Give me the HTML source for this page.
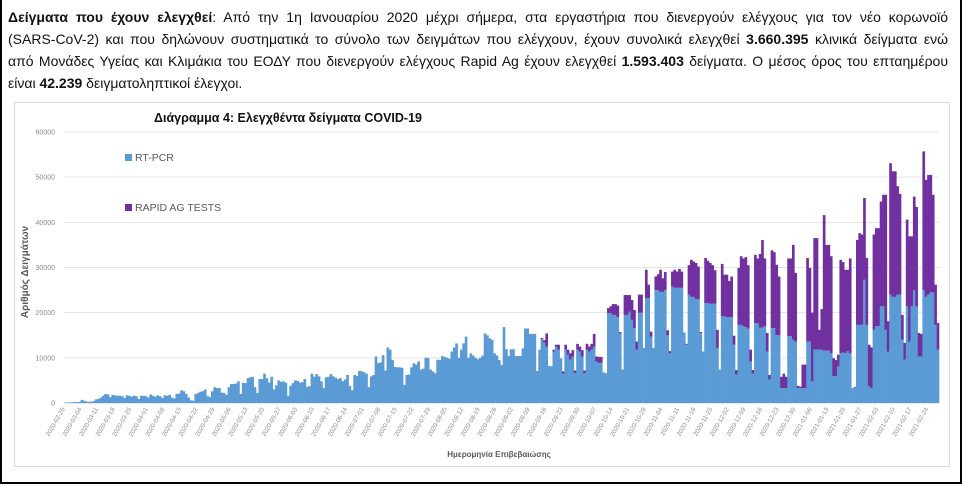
<!DOCTYPE html>
<html><head><meta charset="utf-8">
<style>
html,body{margin:0;padding:0;background:#fff;}
#page{position:relative;width:958px;height:482px;border:2px solid #000;border-top:none;overflow:hidden;font-family:"Liberation Sans",sans-serif;}
.ln{position:absolute;left:6px;width:940px;font-size:14px;color:#111;white-space:nowrap;text-align:justify;text-align-last:justify;}
.ln b{font-weight:bold;}
#chartbox{position:absolute;left:12px;top:102px;width:934px;height:363px;border:1px solid #d9d9d9;}
svg{position:absolute;left:0;top:0;}
</style></head><body>
<div id="page">
<div class="ln" style="top:9px"><b>Δείγματα που έχουν ελεγχθεί</b>: Από την 1η Ιανουαρίου 2020 μέχρι σήμερα, στα εργαστήρια που διενεργούν ελέγχους για τον νέο κορωνοϊό</div>
<div class="ln" style="top:31px">(SARS-CoV-2) και που δηλώνουν συστηματικά το σύνολο των δειγμάτων που ελέγχουν, έχουν συνολικά ελεγχθεί <b>3.660.395</b> κλινικά δείγματα ενώ</div>
<div class="ln" style="top:53px">από Μονάδες Υγείας και Κλιμάκια του ΕΟΔΥ που διενεργούν ελέγχους Rapid Ag έχουν ελεγχθεί <b>1.593.403</b> δείγματα. Ο μέσος όρος του επταημέρου</div>
<div class="ln" style="top:75px;text-align-last:left;width:auto">είναι <b>42.239</b> δειγματοληπτικοί έλεγχοι.</div>
<div id="chartbox"></div>
<svg id="chart" width="962" height="486"></svg>
</div>
<script>
// RT-PCR daily values per month (2020-02-26 .. 2021-02-28)
const rtFeb20=[100,100,150,150];
const rtMar20=[200,200,250,700,500,300,300,300,400,800,900,1200,1600,2000,1900,1300,1800,1700,1600,1600,1500,1100,1700,1600,1400,1600,1500,900,1600,1600,1500];
const rtApr20=[1200,1900,1600,1400,1700,1500,1100,1700,1600,1800,1200,1000,2000,2100,2800,2600,2000,1200,600,500,2000,2200,2500,2600,3000,1500,1300,2600,3500,3300];
const rtMay20=[3300,2300,2200,1800,3500,4200,4200,4300,4800,2000,4500,4400,5500,5700,5800,3500,2200,5300,5300,6500,5500,4500,5800,3000,3900,5000,4700,4800,4500,1600,3800];
const rtJun20=[4400,5000,4900,4500,4600,5300,3600,3700,6500,5800,6400,5900,4800,3300,5700,5800,6400,5900,5600,5300,5500,4800,5200,6200,3800,2800,6200,6000,7100,7000];
const rtJul20=[6800,6500,3500,5900,6200,10300,8800,9000,10600,7200,12300,11800,9500,8000,7900,7900,7800,4000,6200,6300,7900,8800,8500,9200,7400,7600,10000,10000,7400,7000,6600];
const rtAug20=[9600,9500,10400,10200,10000,9800,11400,12300,13200,10000,11800,13200,14700,10000,11000,10500,10000,9700,10000,10500,15400,15000,14300,14000,11000,10500,9500,8400,16800,11900,10400];
const rtSep20=[11900,11900,10400,10400,10400,12100,16500,16500,15300,15300,15300,7100,11800,14100,13400,12500,8200,8100,11400,12500,11800,9900,6500,11800,10700,9600,10300,6600,11800,11400];
const rtOct20=[10300,6600,11800,11400,11800,12500,9200,8900,8900,6800,6600,19900,19900,19500,19500,19000,15400,7400,19500,19500,20200,18400,16600,11800,20000,20000,12200,23200,23200,14700,12200];
const rtNov20=[25000,25000,24600,24600,25000,15000,11000,25800,25500,25500,25500,25500,15600,12900,24000,23500,23500,23000,23000,15500,11400,22100,22100,22000,22000,22000,12200,7400,19200,19200];
const rtDec20=[19000,19000,19000,12900,6300,17300,17300,17000,16800,16500,9200,6500,17700,17700,16700,16700,17000,11400,5200,16600,16600,15000,15000,3300,3300,3300,14800,14800,14000,13600,3300];
const rtJan21=[3300,3300,3300,13600,13600,4800,11800,11800,11800,11800,11600,11600,11600,11000,5900,6000,8100,11000,11200,11000,11500,11000,3300,3300,17300,17300,17300,27300,17300,3700,3300];
const rtFeb21=[16200,17000,17000,21400,21400,16200,11400,24000,23500,23500,24000,24000,14000,9600,21400,13600,21400,25000,21400,10300,10300,25000,23500,24000,24500,24500,17300,11800];
// Rapid Ag daily values (reported from 2020-09-01)
const raSep20=[0,0,0,0,0,0,0,0,0,0,0,0,0,300,500,2900,0,0,400,400,1100,0,500,1100,1100,1400,1400,600,1300,1100];
const raOct20=[1400,600,1300,1100,1300,2800,1100,1300,1300,0,0,1100,1500,2400,2400,2600,300,0,4400,4400,3700,4400,4000,1800,4000,4000,0,6300,3000,1100,0];
const raNov20=[3000,3500,4900,3000,4000,1100,500,3300,4000,3600,4200,3600,0,200,6500,8200,7800,8000,7200,200,0,10000,9400,9000,8500,7400,4000,0,11600,9200];
const raDec20=[9400,8000,9000,2000,1000,12600,15200,15000,15500,14000,2600,800,15100,14300,16300,19400,15000,4100,1000,17200,16800,15600,13000,2500,3200,2500,17200,17200,21000,15200,500];
const raJan21=[300,5200,5200,18500,16300,15200,24700,24700,4400,9000,30000,23400,23400,21500,4000,3500,2600,20700,20000,18500,18000,21000,0,200,18800,20300,20000,18100,14800,9200,9000];
const raFeb21=[21100,21700,21700,23200,24700,29900,6700,29100,27800,27800,24000,22300,5500,3700,19200,23300,15500,20700,22000,5200,5000,30700,25900,26500,26000,21600,8900,5900];
const startDate="2020-02-26";
const rapidStartDate="2020-09-01";
const yTicks=[0,10000,20000,30000,40000,50000,60000];
const seriesNames=["RT-PCR","RAPID AG TESTS"];

const rtpcr=[].concat(rtFeb20,rtMar20,rtApr20,rtMay20,rtJun20,rtJul20,rtAug20,rtSep20,rtOct20,rtNov20,rtDec20,rtJan21,rtFeb21);
const rapid=[].concat(raSep20,raOct20,raNov20,raDec20,raJan21,raFeb21);
const DAY=86400000;
const t0=Date.parse(startDate+"T00:00:00Z");
const rapidOffset=Math.round((Date.parse(rapidStartDate+"T00:00:00Z")-t0)/DAY);

const NS="http://www.w3.org/2000/svg";
const svg=document.getElementById('chart');
const L=62,R=937,T=132,B=403,YMAX=60000;
const n=rtpcr.length;
const bw=(R-L)/n;
function x(i){return L+i*bw;}
function y(v){return B-(v/YMAX)*(B-T);}
function mk(tag,attrs){const e=document.createElementNS(NS,tag);for(const k in attrs)e.setAttribute(k,attrs[k]);svg.appendChild(e);return e;}

yTicks.forEach(v=>{
  const g=mk('line',{x1:L,x2:R,y1:y(v),y2:y(v),stroke:v===0?'#d0d0d0':'#e3e3e3','stroke-width':1});
  
  
  const t=mk('text',{x:53,y:y(v)+2.5,'text-anchor':'end','font-size':7,fill:'#8a8a8a','font-family':'Liberation Sans, sans-serif'});
  t.textContent=String(v);
  
  
});

for(let i=0;i<n;i++){
  const v=rtpcr[i];
  const b=mk('rect',{x:x(i),y:y(v),width:bw+0.3,height:B-y(v),fill:'#5b9bd5'});
  
  
  const ri=i-rapidOffset;
  if(ri>=0&&ri<rapid.length&&rapid[ri]>0){
    const r=mk('rect',{x:x(i),y:y(v+rapid[ri]),width:bw+0.3,height:y(v)-y(v+rapid[ri]),fill:'#7030a0'});
    
    
  }
}

for(let i=0;i<n;i+=7){
  const d=new Date(t0+i*DAY).toISOString().slice(0,10);
  const cx=x(i)+bw/2, cy=409;
  const t=mk('text',{x:cx,y:cy,'text-anchor':'end','font-size':6.3,fill:'#8a8a8a','font-family':'Liberation Sans, sans-serif',transform:`rotate(-60 ${cx} ${cy})`});
  t.textContent=d;
  
  
}

const tt=mk('text',{x:152,y:122,'font-size':12.5,'font-weight':'bold',fill:'#111','font-family':'Liberation Sans, sans-serif'});
tt.textContent="Διάγραμμα 4: Ελεγχθέντα δείγματα COVID-19";



const legCol=['#5b9bd5','#7030a0'];
const legY=[158,208];
seriesNames.forEach((s,k)=>{
  const sq=mk('rect',{x:123,y:legY[k]-4,width:7,height:7,fill:legCol[k]});
  
  
  const lt=mk('text',{x:133,y:legY[k]+3,'font-size':10.5,fill:'#595959','font-family':'Liberation Sans, sans-serif'});
  lt.textContent=s;
  
  
});

const yt=mk('text',{x:26,y:272,'text-anchor':'middle','font-size':10,'font-weight':'bold',fill:'#595959','font-family':'Liberation Sans, sans-serif',transform:'rotate(-90 26 272)'});
yt.textContent="Αριθμός Δειγμάτων";


const xt=mk('text',{x:497,y:457,'text-anchor':'middle','font-size':8,'font-weight':'bold',fill:'#595959','font-family':'Liberation Sans, sans-serif'});
xt.textContent="Ημερομηνία Επιβεβαιώσης";


</script>
</body></html>
